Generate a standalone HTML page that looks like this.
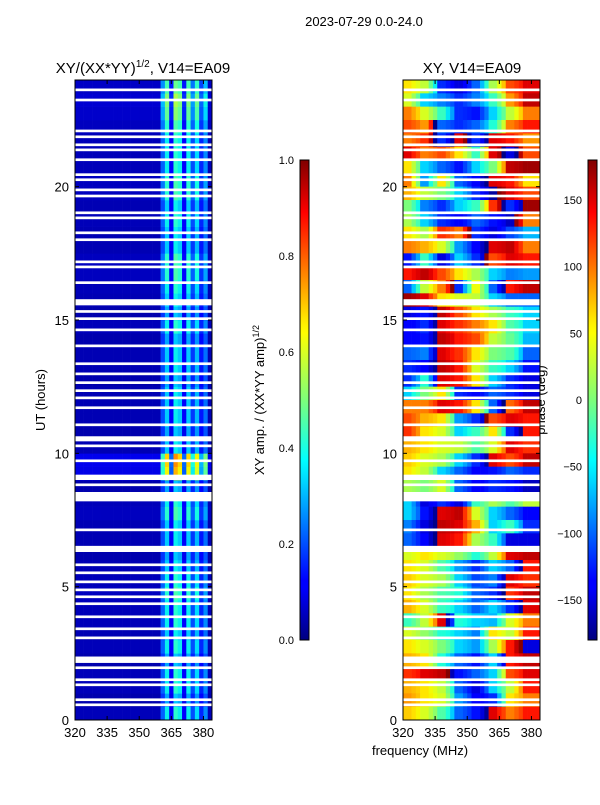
<!DOCTYPE html>
<html><head><meta charset="utf-8">
<style>
body{margin:0;background:#fff;}
svg text{font-family:"Liberation Sans",sans-serif;fill:#000;}
</style></head>
<body>
<svg id="fig" width="600" height="800" xmlns="http://www.w3.org/2000/svg">
<rect width="600" height="800" fill="#fff"/>
<text x="364" y="26" font-size="13" text-anchor="middle">2023-07-29 0.0-24.0</text>
<text x="143" y="73" font-size="15" text-anchor="middle">XY/(XX*YY)<tspan font-size="10" dy="-6">1/2</tspan><tspan dy="6">, V14=EA09</tspan></text>
<text x="472" y="73" font-size="15" text-anchor="middle">XY, V14=EA09</text>
<text x="45" y="400" font-size="13" text-anchor="middle" transform="rotate(-90 45 400)">UT (hours)</text>
<text x="420" y="755" font-size="13" text-anchor="middle">frequency (MHz)</text>
<text x="264" y="400" font-size="13" text-anchor="middle" transform="rotate(-90 264 400)">XY amp. / (XX*YY amp)<tspan font-size="9" dy="-5">1/2</tspan></text>
<text x="545" y="400" font-size="13" text-anchor="middle" transform="rotate(-90 545 400)">phase (deg)</text>
<defs>
<linearGradient id="jet" x1="0" y1="1" x2="0" y2="0">
<stop offset="0" stop-color="#00007f"/><stop offset="0.11" stop-color="#0000ff"/><stop offset="0.125" stop-color="#0000ff"/>
<stop offset="0.34" stop-color="#00e0ff"/><stop offset="0.375" stop-color="#00ffff"/><stop offset="0.5" stop-color="#7dff7a"/>
<stop offset="0.64" stop-color="#ffff00"/><stop offset="0.66" stop-color="#fff000"/><stop offset="0.89" stop-color="#ff0000"/><stop offset="1" stop-color="#800000"/>
</linearGradient>
</defs>
<g id="left"></g>
<g id="right"></g>
<g id="axes"></g>
<rect x="300" y="160" width="9" height="480" fill="url(#jet)" stroke="#000" stroke-width="1"/>
<rect x="588" y="160" width="9" height="480" fill="url(#jet)" stroke="#000" stroke-width="1"/>
</svg>
<script>
// ---- data ----
const freqBins = [320,322,324,326,328,330,332,334,336,338,340,342,344,346,348,350,352,354,356,358,360,362,364,366,368,370,372,374,376,378,380,382];
const ampProfile = [0.05,0.05,0.05,0.05,0.05,0.05,0.05,0.05,0.05,0.05,0.05,0.05,0.05,0.05,0.05,0.05,0.05,0.05,0.05,0.05,0.22,0.36,0.12,0.4,0.36,0.12,0.36,0.2,0.34,0.16,0.26,0.05];
// amplitude row scale per half hour, from 0h upward
const ampRowScale = [1.0,0.8,1.0,1.0,0.8,1.0,0.9,1.0,1.0,1.1,1.0,0.9,0.8,0.9,0.9,1.1,1.0,0.8,1.8,1.9,0.9,0.8,0.9,0.9,0.9,0.8,0.9,0.9,0.8,1.0,0.8,0.9,1.0,1.1,1.1,0.9,0.9,1.0,0.9,1.1,1.1,1.0,1.0,1.0,1.1,1.3,1.4,1.2];
const phaseFreqs = [320,328,336,344,352,360,368,376,384];
// phase (deg), rows from 24h downward, half-hour steps (value at each phaseFreqs node except last repeats)
const phaseRows = [
[60,30,-120,-150,-100,20,120,150],[40,-60,-90,-120,-90,-30,90,160],[100,40,-30,-120,-130,-60,30,100],[120,90,-100,-120,-100,-40,100,140],
[100,130,-120,150,-120,150,140,90],[150,100,120,60,-30,150,-150,120],[60,-60,-100,-130,-60,0,160,170],[100,-80,60,-100,-140,150,140,60],
[80,30,0,-60,-120,-170,150,120],[0,-90,-120,-60,-30,130,-120,170],[20,-60,-120,-140,-100,-130,-160,100],[60,20,130,100,-120,-150,-110,-70],
[100,80,40,-80,-140,150,160,100],[-130,-30,-150,-60,-120,120,150,140],[140,160,120,60,20,-60,-90,-80],[-100,30,100,-120,50,-100,140,160],
[170,150,60,40,30,-60,-100,-100],[-150,-130,160,120,60,20,-30,-60],[-140,-120,150,130,100,60,-20,-60],[-140,-130,160,140,120,30,-10,-70],
[-100,-90,150,130,60,0,-20,-100],[-120,-140,160,140,40,-30,-60,-130],[-120,-40,150,140,60,-60,-120,-150],[-60,0,60,-120,-140,-100,-120,-150],
[100,100,150,140,60,-100,110,160],[120,80,60,-80,-120,120,150,140],[130,60,40,-60,-30,60,-120,140],[80,60,40,30,-20,40,150,130],
[70,40,20,-60,-120,150,120,160],[60,30,-60,-100,-140,-130,-100,-120],[20,0,40,-100,-140,-120,-130,-160],[-60,-150,-120,-150,-30,20,-20,30],
[-60,-130,150,160,40,-60,-100,-140],[-90,-150,160,150,80,-60,-30,-120],[-100,-140,150,140,20,-30,-150,-150],[40,60,40,10,-40,30,150,160],
[60,40,-20,-80,-120,-60,-100,140],[70,40,20,-60,-110,-90,150,130],[60,20,-20,-40,-100,-120,130,160],[80,40,-30,-60,-100,-60,-120,150],
[-30,30,150,-40,-60,-70,40,100],[40,10,-40,-60,-90,60,30,140],[60,40,0,-60,-80,20,140,-150],[80,60,-40,-100,-130,-60,140,160],
[130,150,160,-130,-100,-60,120,150],[80,60,30,-100,-150,-60,30,140],[90,60,40,-80,-140,-120,60,100],[70,40,-20,-100,-130,150,100,140]];
// flagged (blank) time intervals in hours
const blankStart = [23.58,23.2,22.04,21.82,21.52,21.33,20.96,20.4,20.21,19.83,19.6,18.97,18.78,18.22,17.96,17.13,16.94,16.35,15.55,15.27,15.0,14.58,13.98,13.31,12.93,12.6,12.3,12.03,11.66,11.02,10.45,10.23,9.67,9.0,8.77,8.2,7.08,6.3,5.77,5.47,5.13,4.83,4.57,4.31,3.82,3.37,3.03,2.14,1.91,1.46,1.27,0.71,0.52];
const blankEnd   = [23.68,23.3,22.14,21.92,21.62,21.43,21.06,20.5,20.31,19.93,19.7,19.07,18.88,18.32,18.06,17.23,17.04,16.45,15.78,15.37,15.1,14.68,14.08,13.41,13.03,12.7,12.4,12.13,11.76,11.12,10.64,10.33,9.77,9.2,8.87,8.55,7.18,6.53,5.87,5.57,5.23,4.93,4.67,4.41,3.92,3.47,3.13,2.38,2.01,1.56,1.37,0.81,0.62];
const yTicks = [0,5,10,15,20];
const xTicks = [320,335,350,365,380];
const ampTicks = [0.0,0.2,0.4,0.6,0.8,1.0];
const phaseTicks = [-150,-100,-50,0,50,100,150];

// ---- scales ----
const NS='http://www.w3.org/2000/svg';
const T0=80,B0=720;
const yS=h=>B0-(h/24)*(B0-T0);
const xL=f=>75+(f-320)/64*137;
const xR=f=>403+(f-320)/64*137;
function jet(v){v=Math.max(0,Math.min(1,v));
 const itp=(pts)=>{for(let i=1;i<pts.length;i++){if(v<=pts[i][0]){const a=pts[i-1],b=pts[i];return a[1]+(b[1]-a[1])*(v-a[0])/(b[0]-a[0]);}}return pts[pts.length-1][1];};
 const r=itp([[0,0],[0.35,0],[0.66,1],[0.89,1],[1,0.5]]),g=itp([[0,0],[0.125,0],[0.375,1],[0.64,1],[0.91,0],[1,0]]),b=itp([[0,0.5],[0.11,1],[0.34,1],[0.65,0],[1,0]]);
 return `rgb(${Math.round(r*255)},${Math.round(g*255)},${Math.round(b*255)})`;}
function mk(tag,attrs,parent){const e=document.createElementNS(NS,tag);for(const k in attrs)e.setAttribute(k,attrs[k]);parent.appendChild(e);return e;}

const L=document.getElementById('left'),R=document.getElementById('right'),A=document.getElementById('axes');
// amplitude cells
ampRowScale.forEach((s,r)=>{
  freqBins.forEach((f,c)=>{
    const el=mk('rect',{x:xL(f),y:yS((r+1)*0.5),width:xL(f+2)-xL(f)+0.3,height:yS(r*0.5)-yS((r+1)*0.5)+0.3,fill:jet(ampProfile[c]*s)},L);
    
    
  });
});
// phase cells: each node value spans its 8 MHz block, blended smoothly (circularly) toward the next node
const SUB=4;
phaseRows.forEach((row,r)=>{
  const t1=24-r*0.5,t0=t1-0.5;
  row.forEach((p,c)=>{
    const next=c+1<row.length?row[c+1]:p;
    let d=next-p; if(d>180)d-=360; if(d<-180)d+=360;
    for(let k=0;k<SUB;k++){
      const frac=k/SUB;
      let v=p+d*Math.max(0,(frac-0.25)/0.75)*0.8;
      if(v>180)v-=360; if(v<-180)v+=360;
      const f0=phaseFreqs[c]+frac*8, f1=f0+8/SUB;
      const el=mk('rect',{x:xR(f0),y:yS(t1),width:xR(f1)-xR(f0)+0.3,height:yS(t0)-yS(t1)+0.3,fill:jet((v+180)/360)},R);
      
      
    }
  });
});
// blanks
blankStart.forEach((s,i)=>{
  [[75,137],[403,137]].forEach(([x,w])=>{
    const el=mk('rect',{x:x,y:yS(blankEnd[i]),width:w,height:yS(s)-yS(blankEnd[i]),fill:'#fff'},A);
    
    
  });
});
// frames and ticks
[[75,xL],[403,xR]].forEach(([x0,xs],pi)=>{
  const fr=mk('rect',{x:x0,y:T0,width:137,height:B0-T0,fill:'none',stroke:'#000','stroke-width':1},A);
  
  
  yTicks.forEach(t=>{
    const y=yS(t);
    mk('line',{x1:x0,x2:x0+4,y1:y,y2:y,stroke:'#000'},A);
    mk('line',{x1:x0+137,x2:x0+133,y1:y,y2:y,stroke:'#000'},A);
    const tx=mk('text',{x:x0-6,y:y+5,'font-size':13,'text-anchor':'end'},A);tx.textContent=t;
    
    
  });
  xTicks.forEach(t=>{
    const x=xs(t);
    mk('line',{x1:x,x2:x,y1:B0,y2:B0-4,stroke:'#000'},A);
    mk('line',{x1:x,x2:x,y1:T0,y2:T0+4,stroke:'#000'},A);
    const tx=mk('text',{x:x,y:B0+17,'font-size':13,'text-anchor':'middle'},A);tx.textContent=t;
    
    
  });
});
// colorbar ticks
ampTicks.forEach(t=>{
  const y=640-t*480;
  mk('line',{x1:300,x2:304,y1:y,y2:y,stroke:'#000'},A);
  const tx=mk('text',{x:294,y:y+4,'font-size':11,'text-anchor':'end'},A);tx.textContent=t.toFixed(1);
  
  
});
phaseTicks.forEach(t=>{
  const y=640-(t+180)/360*480;
  mk('line',{x1:588,x2:592,y1:y,y2:y,stroke:'#000'},A);
  const tx=mk('text',{x:582,y:y+4,'font-size':11,'text-anchor':'end'},A);tx.textContent=t<0?'\u2212'+(-t):t;
  
  
});
</script>
</body></html>
